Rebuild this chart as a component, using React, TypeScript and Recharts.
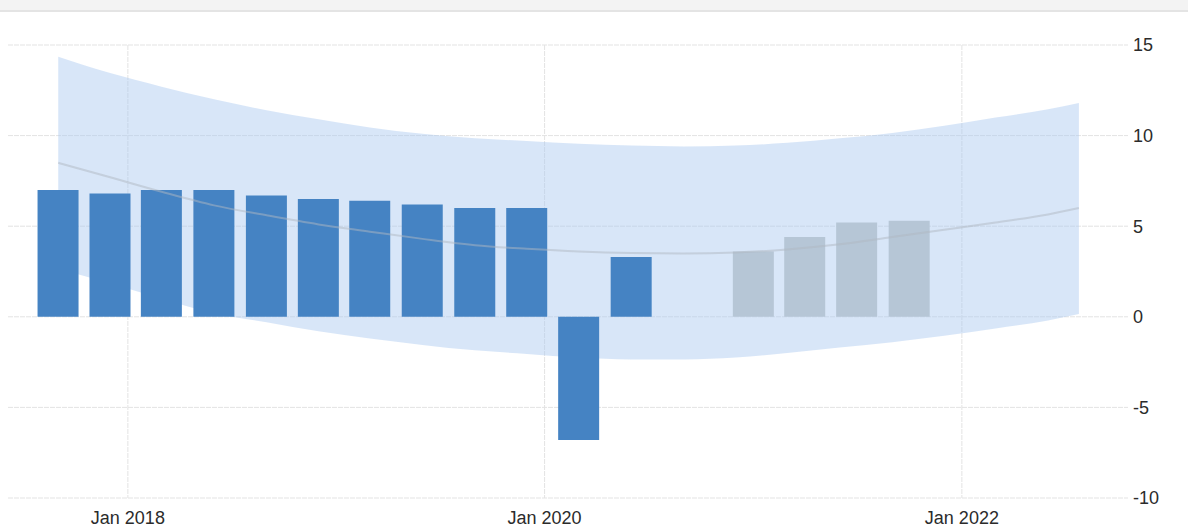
import {
  Area,
  Bar,
  CartesianGrid,
  Cell,
  ComposedChart,
  Line,
  XAxis,
  YAxis,
} from "recharts";

// quarterly readings (bars are dated on the first day of the quarter's last month)
const actualDates = [
  "2017-09-01", "2017-12-01", "2018-03-01", "2018-06-01",
  "2018-09-01", "2018-12-01", "2019-03-01", "2019-06-01",
  "2019-09-01", "2019-12-01", "2020-03-01", "2020-06-01",
];
const actualValues = [7.0, 6.8, 7.0, 7.0, 6.7, 6.5, 6.4, 6.2, 6.0, 6.0, -6.8, 3.3];

const forecastDates = ["2021-01-01", "2021-04-01", "2021-07-01", "2021-10-01"];
const forecastValues = [3.6, 4.4, 5.2, 5.3];

// trend line and its shaded band
const bandDates = [
  "2017-09-01", "2017-12-01", "2018-03-01", "2018-06-01", "2018-09-01",
  "2018-12-01", "2019-03-01", "2019-06-01", "2019-09-01", "2019-12-01",
  "2020-03-01", "2020-06-01", "2020-09-01", "2020-12-01", "2021-03-01",
  "2021-06-01", "2021-09-01", "2021-12-01", "2022-03-01", "2022-06-01",
  "2022-07-25",
];
const trendValues = [
  8.5, 7.7, 6.9, 6.15, 5.6, 5.1, 4.7, 4.3, 3.95, 3.75, 3.6,
  3.52, 3.5, 3.55, 3.72, 4.0, 4.4, 4.8, 5.2, 5.65, 6.0,
];
const upperValues = [
  14.35, 13.45, 12.7, 12.0, 11.4, 10.9, 10.45, 10.1, 9.85, 9.7, 9.55,
  9.45, 9.4, 9.45, 9.6, 9.85, 10.15, 10.55, 11.0, 11.45, 11.8,
];
const lowerValues = [
  2.65, 1.85, 1.0, 0.2, -0.3, -0.8, -1.2, -1.55, -1.85, -2.05, -2.25,
  -2.35, -2.35, -2.25, -2.0, -1.7, -1.4, -1.05, -0.65, -0.2, 0.15,
];

const xTickDates = ["2018-01-01", "2020-01-01", "2022-01-01"];
const xDomainDates = ["2017-06-05", "2022-10-19"];
const yTicks = [-10, -5, 0, 5, 10, 15];

const MONTHS = ["Jan", "Feb", "Mar", "Apr", "May", "Jun", "Jul", "Aug", "Sep", "Oct", "Nov", "Dec"];

const ts = (d: string) => Date.parse(d);

const barRows = [
  ...actualDates.map((d, i) => ({ t: ts(d), value: actualValues[i], forecast: false })),
  ...forecastDates.map((d, i) => ({ t: ts(d), value: forecastValues[i], forecast: true })),
];

const bandRows = bandDates.map((d, i) => ({
  t: ts(d),
  trend: trendValues[i],
  band: [lowerValues[i], upperValues[i]],
}));

const xDomain = xDomainDates.map(ts);
const xTicks = xTickDates.map(ts);

function formatMonth(value: number) {
  const date = new Date(value);
  return `${MONTHS[date.getUTCMonth()]} ${date.getUTCFullYear()}`;
}

const tickStyle = { fill: "#2b2b2b", fontSize: 18, fontFamily: "Liberation Sans, Arial, sans-serif" };

export default function App() {
  return (
    <div
      style={{
        position: "absolute",
        left: 0,
        top: 0,
        width: 1188,
        height: 530,
        background: "#fff",
        fontFamily: "Liberation Sans, Arial, sans-serif",
      }}
    >
      <div
        style={{
          position: "absolute",
          left: 0,
          top: 0,
          width: 1188,
          height: 10,
          background: "#f3f3f3",
          borderBottom: "2px solid #e4e4e4",
        }}
      />
      <ComposedChart
        width={1188}
        height={530}
        data={barRows}
        margin={{ top: 45, right: 0, bottom: 0, left: 8 }}
      >
        <CartesianGrid stroke="#e3e3e3" strokeDasharray="5 1" syncWithTicks />
        <XAxis
          dataKey="t"
          type="number"
          scale="linear"
          domain={xDomain}
          allowDataOverflow
          ticks={xTicks}
          tickFormatter={formatMonth}
          axisLine={false}
          tickLine={false}
          tickSize={0}
          tickMargin={13}
          height={32}
          tick={tickStyle}
        />
        <XAxis
          xAxisId="band"
          dataKey="t"
          type="number"
          scale="linear"
          domain={xDomain}
          allowDataOverflow
          hide
        />
        <YAxis
          orientation="right"
          domain={[-10, 15]}
          ticks={yTicks}
          allowDataOverflow
          axisLine={false}
          tickLine={false}
          tickSize={0}
          tickMargin={5}
          width={60}
          tick={tickStyle}
        />
        <Area
          xAxisId="band"
          data={bandRows}
          dataKey="band"
          type="monotone"
          stroke="none"
          fill="#a8c8f0"
          fillOpacity={0.45}
          isAnimationActive={false}
        />
        <Bar dataKey="value" barSize={41} isAnimationActive={false}>
          {barRows.map((row, i) => (
            <Cell key={i} fill={row.forecast ? "#b6c6d6" : "#4583c3"} />
          ))}
        </Bar>
        <Line
          xAxisId="band"
          data={bandRows}
          dataKey="trend"
          type="monotone"
          stroke="#b0b8c2"
          strokeOpacity={0.5}
          strokeWidth={2}
          dot={false}
          activeDot={false}
          isAnimationActive={false}
        />
      </ComposedChart>
    </div>
  );
}
